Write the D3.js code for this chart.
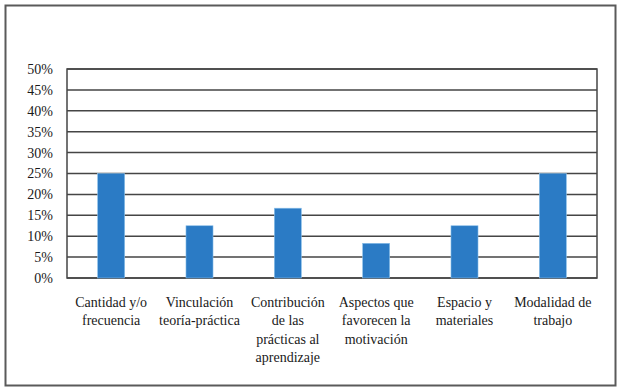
<!DOCTYPE html>
<html>
<head>
<meta charset="utf-8">
<script src="https://cdn.jsdelivr.net/npm/d3@7"></script>
<style>
  body { margin: 0; background: #fff; }
  svg text { font-family: "Times New Roman", "Liberation Serif", "DejaVu Serif", serif; fill: #1a1a1a; }
</style>
</head>
<body>
<svg id="chart" width="621" height="392"></svg>
<script>
// categories (labels broken into lines like the original)
const categories = [
  "Cantidad y/o frecuencia",
  "Vinculación teoría-práctica",
  "Contribución de las prácticas al aprendizaje",
  "Aspectos que favorecen la motivación",
  "Espacio y materiales",
  "Modalidad de trabajo"
];
const labelLines = [
  ["Cantidad y/o", "frecuencia"],
  ["Vinculación", "teoría-práctica"],
  ["Contribución", "de las", "prácticas al", "aprendizaje"],
  ["Aspectos que", "favorecen la", "motivación"],
  ["Espacio y", "materiales"],
  ["Modalidad de", "trabajo"]
];
const values = [0.25, 0.125, 0.167, 0.083, 0.125, 0.25];
const yTicks = [0, 0.05, 0.10, 0.15, 0.20, 0.25, 0.30, 0.35, 0.40, 0.45, 0.50];

const svg = d3.select("#chart");
const margin = { top: 69, right: 24, bottom: 114, left: 67 };
const width = 621 - margin.left - margin.right;
const height = 392 - margin.top - margin.bottom;
const serif = "'Times New Roman', 'Liberation Serif', 'DejaVu Serif', serif";

// outer frame
svg.append("rect")
  .attr("x", 5.5).attr("y", 5.5)
  .attr("width", 610).attr("height", 380)
  .attr("fill", "#fff")
  .attr("stroke", "#5a5a5a")
  .attr("stroke-width", 2);

const g = svg.append("g")
  .attr("transform", `translate(${margin.left},${margin.top})`);

const x = d3.scaleBand()
  .domain(categories)
  .range([0, width])
  .paddingInner(0.694)
  .paddingOuter(0.347);

const y = d3.scaleLinear()
  .domain([0, 0.5])
  .range([height, 0]);

// gridlines
g.append("g")
  .selectAll("line")
  .data(yTicks)
  .join("line")
  .attr("x1", 0).attr("x2", width)
  .attr("y1", d => y(d)).attr("y2", d => y(d))
  .attr("stroke", "#454545")
  .attr("stroke-width", 1.5);

// plot box
g.append("rect")
  .attr("x", 0).attr("y", 0)
  .attr("width", width).attr("height", height)
  .attr("fill", "none")
  .attr("stroke", "#454545")
  .attr("stroke-width", 1.5);

// bars
g.selectAll(".bar")
  .data(values)
  .join("rect")
  .attr("class", "bar")
  .attr("x", (d, i) => x(categories[i]))
  .attr("y", d => y(d))
  .attr("width", x.bandwidth())
  .attr("height", d => height - y(d))
  .attr("fill", "#2b7bc5")
  .attr("stroke", "#8cc0ea")
  .attr("stroke-width", 0.6);

// y axis labels
g.append("g")
  .call(d3.axisLeft(y).tickValues(yTicks).tickFormat(d3.format(".0%")).tickSize(0).tickPadding(14))
  .attr("font-family", serif)
  .call(a => a.select(".domain").remove())
  .selectAll("text")
  .style("font-family", serif)
  .style("font-size", "14px")
  .attr("fill", "#1a1a1a");

// x labels
const xl = g.append("g")
  .selectAll("text")
  .data(labelLines)
  .join("text")
  .attr("text-anchor", "middle")
  .style("font-family", serif)
  .style("font-size", "14px")
  .attr("x", (d, i) => x(categories[i]) + x.bandwidth() / 2)
  .attr("y", height + 29);

xl.selectAll("tspan")
  .data(d => d)
  .join("tspan")
  .attr("x", function () { return d3.select(this.parentNode).attr("x"); })
  .attr("dy", (d, i) => i === 0 ? 0 : 18.3)
  .text(d => d);
</script>
</body>
</html>
